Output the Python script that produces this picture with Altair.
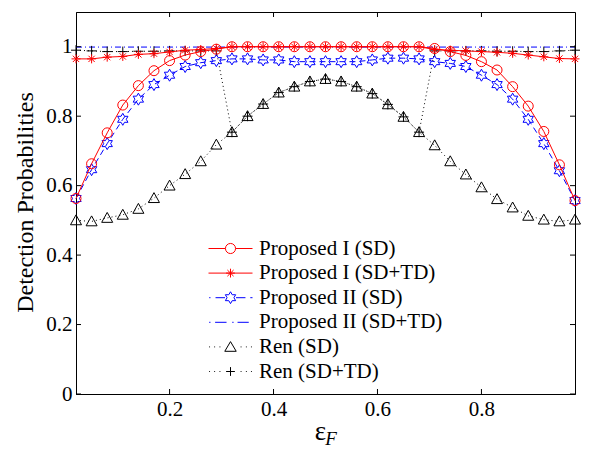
import re
import altair as alt
import pandas as pd

# ---------------- data ----------------
xs = [0.02, 0.05, 0.08, 0.11, 0.14, 0.17, 0.20, 0.23, 0.26, 0.29, 0.32, 0.35, 0.38,
      0.41, 0.44, 0.47, 0.50, 0.53, 0.56, 0.59, 0.62, 0.65, 0.68, 0.71, 0.74, 0.77,
      0.80, 0.83, 0.86, 0.89, 0.92, 0.95, 0.98]

p1_sd = [0.563, 0.663, 0.752, 0.832, 0.888, 0.931, 0.960, 0.976, 0.986, 0.993,
         1.0, 1.0, 1.0, 1.0, 1.0, 1.0, 1.0, 1.0, 1.0, 1.0, 1.0, 1.0, 1.0,
         0.995, 0.986, 0.975, 0.957, 0.933, 0.885, 0.829, 0.756, 0.660, 0.557]

p1_sdtd = [0.965, 0.965, 0.970, 0.972, 0.978, 0.980, 0.985, 0.990, 0.992, 0.995,
           1.0, 1.0, 1.0, 1.0, 1.0, 1.0, 1.0, 1.0, 1.0, 1.0, 1.0, 1.0, 1.0,
           0.992, 0.990, 0.988, 0.986, 0.984, 0.981, 0.976, 0.971, 0.966, 0.965]

p2_sd = [0.563, 0.646, 0.721, 0.791, 0.849, 0.891, 0.918, 0.943, 0.954, 0.960,
         0.965, 0.965, 0.962, 0.962, 0.957, 0.957, 0.957, 0.957, 0.957, 0.962,
         0.967, 0.967, 0.965, 0.957, 0.952, 0.943, 0.918, 0.891, 0.849, 0.791,
         0.721, 0.643, 0.557]

p2_sdtd = [0.999] * 33

ren_sd = [0.500, 0.497, 0.507, 0.516, 0.533, 0.564, 0.600, 0.633, 0.670, 0.718,
          0.754, 0.800, 0.835, 0.868, 0.885, 0.900, 0.907, 0.900, 0.885, 0.865,
          0.834, 0.798, 0.754, 0.716, 0.670, 0.632, 0.595, 0.561, 0.537, 0.513,
          0.502, 0.497, 0.502]

ren_sdtd = [0.990, 0.988, 0.986, 0.986, 0.987, 0.987, 0.988, 0.988, 0.988, 0.988,
            0.754, 0.800, 0.835, 0.868, 0.885, 0.900, 0.907, 0.900, 0.885, 0.865,
            0.834, 0.798, 0.754,
            0.988, 0.988, 0.988, 0.988, 0.987, 0.987, 0.986, 0.986, 0.988, 0.990]

series_names = ["Proposed I (SD)", "Proposed I (SD+TD)", "Proposed II (SD)",
                "Proposed II (SD+TD)", "Ren (SD)", "Ren (SD+TD)"]
series_colors = ["#ff0000", "#ff0000", "#0000ff", "#0000ff", "#000000", "#000000"]

x_tick_vals = [0.2, 0.4, 0.6, 0.8]
y_tick_vals = [0, 0.2, 0.4, 0.6, 0.8, 1]

# ---------------- marker shapes ----------------
ASTER = "M-1,0L1,0M0,-1L0,1M-0.7,-0.7L0.7,0.7M-0.7,0.7L0.7,-0.7"
HEXA = ("M0,-1L0.289,-0.5L0.866,-0.5L0.577,0L0.866,0.5L0.289,0.5L0,1L-0.289,0.5"
        "L-0.866,0.5L-0.577,0L-0.866,-0.5L-0.289,-0.5Z")
TRI = "M0,-1L1,0.8L-1,0.8Z"
PLUS = "M-1,0L1,0M0,-1L0,1"

# legend symbols (line sample + marker) drawn in units of half the 44px sample
DOTS = ("M-0.97,0L-0.93,0M-0.74,0L-0.70,0M-0.50,0L-0.46,0"
        "M0.46,0L0.50,0M0.70,0L0.74,0M0.93,0L0.97,0")
leg_paths_unit = [
    "M-1,0L-0.23,0M0.23,0L1,0M-0.23,0A0.23,0.23 0 1,1 0.23,0A0.23,0.23 0 1,1 -0.23,0Z",
    "M-1,0L1,0M-0.2,0L0.2,0M0,-0.2L0,0.2M-0.14,-0.14L0.14,0.14M-0.14,0.14L0.14,-0.14",
    "M-0.97,0L-0.91,0M-0.68,0L-0.25,0M0.25,0L0.68,0M0.9,0L1,0"
    "M0,-0.27L0.078,-0.135L0.234,-0.135L0.156,0L0.234,0.135L0.078,0.135L0,0.27"
    "L-0.078,0.135L-0.234,0.135L-0.156,0L-0.234,-0.135L-0.078,-0.135Z",
    "M-0.97,0L-0.91,0M-0.7,0L-0.18,0M0.08,0L0.14,0M0.32,0L0.83,0",
    DOTS + "M0,-0.24L0.26,0.2L-0.26,0.2Z",
    DOTS + "M-0.2,0L0.2,0M0,-0.2L0,0.2",
]

LEG_SYM = 400          # symbol size -> half-width 10px per path unit
LEG_SCALE = 2.2        # 22px half sample / 10px


def scale_path(p, k):
    # scale numbers in path; arc flags (0/1 after radii & rotation) untouched
    out = []
    for cmd in re.findall(r"[MLAZ][^MLAZ]*", p):
        c, rest = cmd[0], cmd[1:]
        nums = re.findall(r"-?\d*\.?\d+", rest)
        if c == "A":
            rx, ry, rot, la, sw, x, y = nums
            out.append("A%g,%g %s %s,%s %g,%g" % (float(rx) * k, float(ry) * k, rot, la, sw,
                                                  float(x) * k, float(y) * k))
        elif c == "Z":
            out.append("Z")
        else:
            out.append(c + ",".join("%g" % (float(n) * k) for n in nums))
    return "".join(out)


leg_paths = [scale_path(p, LEG_SCALE) for p in leg_paths_unit]

W, H = 499, 382
FONT = "Liberation Serif"

xscale = alt.Scale(domain=[0.02, 0.98], nice=False, zero=False)
yscale = alt.Scale(domain=[0, 1.1], nice=False, zero=False)

X = alt.X("x:Q", scale=xscale,
          axis=alt.Axis(values=x_tick_vals, format=".1f", title="ε",
                        titleFontSize=27, titleX=244, titleY=45,
                        titleBaseline="alphabetic", titleAlign="center",
                        labelFlush=False))
Y = alt.Y("y:Q", scale=yscale,
          axis=alt.Axis(values=y_tick_vals, format="~g",
                        title="Detection Probabilities", titleFontSize=24,
                        titleX=-44, titleY=190, titleBaseline="alphabetic",
                        titleAlign="center"))


def frame(vals):
    return pd.DataFrame({"x": xs, "y": vals})


def line(vals, color, dash=None):
    kw = dict(color=color, strokeWidth=1)
    if dash is not None:
        kw["strokeDash"] = dash
    return alt.Chart(frame(vals)).mark_line(**kw).encode(x=X, y=Y)


def pts(vals, color, shape, size):
    return alt.Chart(frame(vals)).mark_point(
        shape=shape, size=size, filled=False, color=color, strokeWidth=1, opacity=1
    ).encode(x=X, y=Y)


layers = [
    line(p2_sdtd, "#0000ff", [6, 3, 1, 3]),
    line(ren_sd, "#000000", [1, 3]),
    line(ren_sdtd, "#000000", [1, 3]),
    pts(ren_sd, "#000000", TRI, 121),
    pts(ren_sdtd, "#000000", PLUS, 100),
    line(p2_sd, "#0000ff", [6, 4]),
    pts(p2_sd, "#0000ff", HEXA, 144),
    line(p1_sdtd, "#ff0000"),
    pts(p1_sdtd, "#ff0000", ASTER, 81),
    line(p1_sd, "#ff0000"),
    pts(p1_sd, "#ff0000", "circle", 100),
]

# legend-only layer (no visible marks)
leg_df = pd.DataFrame({"series": series_names, "x": [0.5] * 6, "y": [0.5] * 6})
legend_layer = alt.Chart(leg_df).transform_filter("datum.y > 5").mark_point(
    filled=False, strokeWidth=1, opacity=1
).encode(
    x=X, y=Y,
    shape=alt.Shape("series:N", scale=alt.Scale(domain=series_names, range=leg_paths),
                    legend=alt.Legend(title=None, orient="none", legendX=144, legendY=226,
                                      symbolSize=LEG_SYM, symbolStrokeWidth=1,
                                      labelFont=FONT, labelFontSize=21, labelColor="black",
                                      labelOffset=18, rowPadding=2.6, padding=0,
                                      labelLimit=400)),
    color=alt.Color("series:N", scale=alt.Scale(domain=series_names, range=series_colors)),
)

# inner tick marks (box style)
xt = pd.DataFrame({"x": x_tick_vals})
yt = pd.DataFrame({"y": y_tick_vals})
ticks = [
    alt.Chart(xt).mark_rule(color="black", strokeWidth=1).encode(
        x=X, y=alt.value(H), y2=alt.value(H - 5)),
    alt.Chart(xt).mark_rule(color="black", strokeWidth=1).encode(
        x=X, y=alt.value(0), y2=alt.value(5)),
    alt.Chart(yt).mark_rule(color="black", strokeWidth=1).encode(
        y=Y, x=alt.value(0), x2=alt.value(5)),
    alt.Chart(yt).mark_rule(color="black", strokeWidth=1).encode(
        y=Y, x=alt.value(W), x2=alt.value(W - 5)),
]

sub_f = alt.Chart(pd.DataFrame({"t": ["F"]})).mark_text(
    font=FONT, fontSize=19, fontStyle="italic", color="black",
    align="center", baseline="alphabetic"
).encode(text="t:N", x=alt.value(255), y=alt.value(433))

chart = alt.layer(*layers, legend_layer, *ticks, sub_f).properties(
    width=W, height=H,
    padding={"left": 68, "top": 4, "right": 13, "bottom": 55},
    autosize=alt.AutoSizeParams(type="none"),
).configure_view(stroke="black", strokeWidth=1).configure_axis(
    domainColor="black", domainWidth=1, tickSize=0, grid=False,
    labelFont=FONT, labelFontSize=21, labelColor="black", labelPadding=4,
    titleFont=FONT, titleColor="black", titleFontWeight="normal",
)

chart.save("out.html", embed_options={"renderer": "svg", "actions": False})
